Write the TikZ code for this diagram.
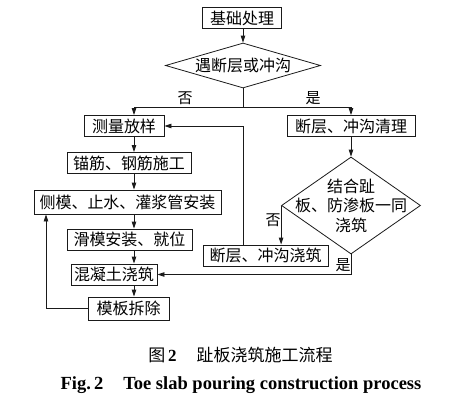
\documentclass[tikz,border=0pt]{standalone}
\usepackage{fontspec}
\usepackage{tikz}
\usetikzlibrary{arrows.meta,positioning,shapes.geometric,calc}
\newfontfamily\cjk{Noto Sans CJK SC}
\newfontfamily\capen{Liberation Serif}
\definecolor{ink}{HTML}{1A1A1A}
\tikzset{
  stepbox/.style={draw=ink,line width=0.9pt,inner xsep=3pt,inner ysep=1pt,
                  minimum height=21pt,font=\cjk\fontsize{16}{18}\selectfont},
  choice/.style={draw=ink,diamond,line width=0.8pt,inner sep=0pt},
  choicetext/.style={align=center,inner sep=0pt,
                     font=\cjk\fontsize{16}{19.5}\selectfont},
  flowarr/.style={-{Triangle[length=7pt,width=4.5pt]},line width=0.9pt,
                  draw=ink},
  flowline/.style={line width=0.9pt,draw=ink},
  branchlbl/.style={inner sep=0pt,font=\cjk\fontsize{15}{17}\selectfont}
}

\begin{document}
\begin{tikzpicture}[x=1pt,y=-1pt]
    \path[use as bounding box,fill=white] (0,0) rectangle (453,404);
    \coordinate (col) at (134,0);
    \coordinate (back) at (46,0);

    \node[stepbox,minimum width=79pt] (base) at (242,18) {基础处理};
    \node[choice,minimum width=155pt,minimum height=45pt] (fault) at (243,65.5) {};
    \node[choicetext] at (fault) {遇断层或冲沟};
    \coordinate (split) at (243,107);

    \node[stepbox,minimum width=80pt] (survey) at (124,126) {测量放样};
    \node[stepbox,minimum width=128pt] (clean) at (351,126) {断层、冲沟清理};
    \node[stepbox,minimum width=124pt] (anchor) at (129,163) {锚筋、钢筋施工};
    \node[stepbox,minimum width=187pt,minimum height=24pt] (form) at (127.5,202)
      {侧模、止水、灌浆管安装};
    \node[stepbox,minimum width=125pt] (slide) at (129.5,239.5) {滑模安装、就位};
    \node[stepbox,minimum width=86pt] (pour) at (114,274.5) {混凝土浇筑};
    \node[stepbox,minimum width=81pt,minimum height=23pt] (strip) at (128.5,308.5)
      {模板拆除};
    \node[stepbox,minimum width=125pt] (fill) at (265.5,255.5) {断层、冲沟浇筑};
    \node[choice,minimum width=139pt,minimum height=97pt] (joint) at (351,205.5) {};
    \node[choicetext] at (joint) {结合趾\\板、防渗板一同\\浇筑};

    \node[branchlbl] (no1) at (185,98) {否};
    \node[branchlbl] (yes1) at (313,98) {是};
    \node[branchlbl] (no2) at (273,220) {否};
    \node[branchlbl] (yes2) at (343,265) {是};

    \draw[flowarr] (base.south -| fault.north) -- (fault.north);
    \draw[flowline] (fault.south) -- (split);
    \draw[flowarr] (split) -| (survey.north -| col);
    \draw[flowarr] (split) -| (clean.north);
    \draw[flowarr] (survey.south -| col) -- (anchor.north -| col);
    \draw[flowarr] (anchor.south -| col) -- (form.north -| col);
    \draw[flowarr] (form.south -| col) -- (slide.north -| col);
    \draw[flowarr] (slide.south -| col) -- (pour.north -| col);
    \draw[flowarr] (pour.south -| col) -- (strip.north -| col);
    \draw[flowarr] (strip.west) -| (form.south -| back);
    \draw[flowarr] (fill.north -| fault.south) |- (survey.east);
    \draw[flowarr] (clean.south) -- (joint.north);
    \draw[flowarr] (joint.west) -- (joint.west |- fill.north);
    \draw[flowarr] (joint.south) |- (pour.east);

    \node[font=\cjk\fontsize{17}{19}\selectfont] (cap) at (240.5,355)
      {图\,{\capen\bfseries 2}\hspace{20pt}趾板浇筑施工流程};
    \node[font=\capen\bfseries\fontsize{18.5}{20}\selectfont] (capen) at (241,385)
      {Fig.\,2\hspace{20pt}Toe slab pouring construction process};
  \end{tikzpicture}
\end{document}
